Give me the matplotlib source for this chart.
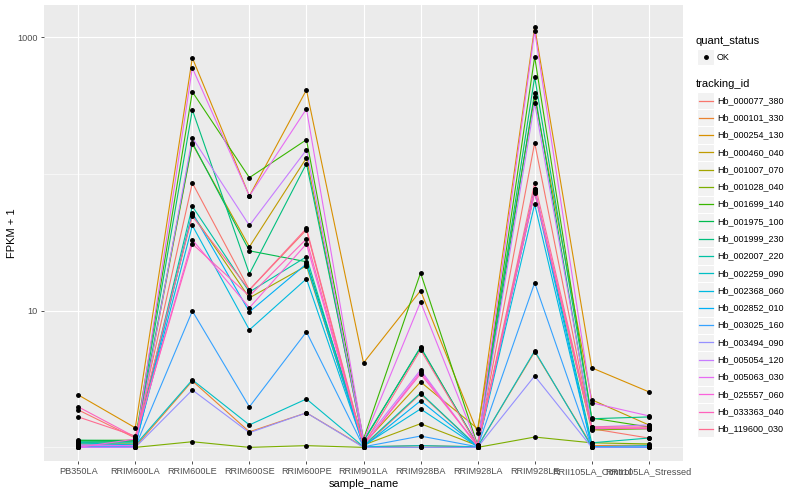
import matplotlib
matplotlib.use("Agg")
import matplotlib.pyplot as plt
from matplotlib.patches import Rectangle
from matplotlib.lines import Line2D
from matplotlib.ticker import NullFormatter

plt.rcParams["font.family"] = ["Liberation Sans", "DejaVu Sans"]

# ------------------------------------------------------------------ data
samples = ["PB350LA", "RRIM600LA", "RRIM600LE", "RRIM600SE", "RRIM600PE",
           "RRIM901LA", "RRIM928BA", "RRIM928LA", "RRIM928LE",
           "RRII105LA_Control", "RRII105LA_Stressed"]

genes = ["Hb_000077_380", "Hb_000101_330", "Hb_000254_130", "Hb_000460_040",
         "Hb_001007_070", "Hb_001028_040", "Hb_001699_140", "Hb_001975_100",
         "Hb_001999_230", "Hb_002007_220", "Hb_002259_090", "Hb_002368_060",
         "Hb_002852_010", "Hb_003025_160", "Hb_003494_090", "Hb_005054_120",
         "Hb_005063_030", "Hb_025557_060", "Hb_033363_040", "Hb_119600_030"]

# FPKM + 1, one list per gene, in sample order
fpkm = {
    "Hb_000077_380": [1.88, 1.17, 86, 14.2, 39, 1.01, 2.46, 1.01, 169, 1.37, 1.17],
    "Hb_000101_330": [1.01, 1.01, 3.06, 1.30, 1.79, 1.01, 1.03, 1.01, 5.0, 1.03, 1.04],
    "Hb_000254_130": [2.42, 1.39, 707, 69, 412, 4.15, 14.0, 1.28, 1191, 3.82, 2.55],
    "Hb_000460_040": [1.06, 1.06, 166, 29.3, 131, 1.06, 3.01, 1.37, 366, 2.23, 1.46],
    "Hb_001007_070": [1.08, 1.12, 51, 12.4, 21.3, 1.04, 1.49, 1.03, 75, 1.34, 1.37],
    "Hb_001028_040": [1.0, 1.0, 1.10, 1.0, 1.03, 1.0, 1.0, 1.0, 1.19, 1.08, 1.06],
    "Hb_001699_140": [1.12, 1.13, 399, 94, 178, 1.15, 18.9, 1.04, 719, 1.64, 1.41],
    "Hb_001975_100": [1.13, 1.12, 169, 27.4, 22.8, 1.12, 5.35, 1.04, 392, 1.37, 1.37],
    "Hb_001999_230": [1.10, 1.10, 294, 18.6, 119, 1.10, 5.43, 1.03, 513, 1.62, 1.67],
    "Hb_002007_220": [1.08, 1.08, 58, 13.7, 24.8, 1.03, 2.50, 1.01, 78, 1.08, 1.17],
    "Hb_002259_090": [1.08, 1.04, 3.12, 1.46, 2.26, 1.01, 1.03, 1.01, 5.08, 1.01, 1.03],
    "Hb_002368_060": [1.04, 1.04, 42, 7.24, 17.1, 1.03, 1.91, 1.01, 60, 1.01, 1.01],
    "Hb_002852_010": [1.01, 1.01, 52, 9.8, 22.0, 1.01, 2.19, 1.01, 74, 1.0, 1.01],
    "Hb_003025_160": [1.01, 1.01, 9.95, 1.98, 7.0, 1.01, 1.21, 1.01, 16.0, 1.0, 1.0],
    "Hb_003494_090": [1.0, 1.0, 2.63, 1.28, 1.79, 1.0, 1.0, 1.0, 3.33, 1.0, 1.01],
    "Hb_005054_120": [1.0, 1.0, 184, 42, 150, 1.08, 3.69, 1.01, 331, 1.41, 1.46],
    "Hb_005063_030": [1.04, 1.03, 597, 69, 299, 1.12, 11.6, 1.03, 1113, 2.12, 1.70],
    "Hb_025557_060": [1.0, 1.15, 33, 10.5, 30.8, 1.03, 3.57, 1.03, 77, 1.37, 1.39],
    "Hb_033363_040": [1.98, 1.19, 30.8, 12.8, 33.5, 1.04, 3.45, 1.03, 73, 1.39, 1.37],
    "Hb_119600_030": [1.67, 1.21, 49, 14.2, 40, 1.04, 5.17, 1.03, 86, 1.41, 1.41],
}

# ggplot2 default hue palette for 20 levels
hue = ["#F8766D", "#EA8331", "#D89000", "#C09B00", "#A3A500", "#7CAE00",
       "#39B600", "#00BB4E", "#00BF7D", "#00C1A3", "#00BFC4", "#00BAE0",
       "#00B0F6", "#35A2FF", "#9590FF", "#C77CFF", "#E76BF3", "#FA62DB",
       "#FF62BC", "#FF6C91"]

# ------------------------------------------------------------------ plot
fig = plt.figure(figsize=(8, 5), dpi=100)
ax = fig.add_axes([44 / 800, 39 / 500, 639 / 800, 456 / 500])
ax.set_facecolor("#EBEBEB")

x = list(range(len(samples)))
for g, col in zip(genes, hue):
    ax.plot(x, fpkm[g], color=col, lw=0.8, zorder=2)
for g in genes:
    ax.plot(x, fpkm[g], ls="none", marker="o", ms=2.5, color="black", zorder=3)

ax.set_yscale("log")
ax.set_ylim(0.795, 1722)
ax.set_xlim(-0.6, len(samples) - 0.4)
ax.set_yticks([10, 1000])
ax.set_yticklabels(["10", "1000"])
ax.set_yticks([1, 100], minor=True)
ax.yaxis.set_minor_formatter(NullFormatter())
ax.set_xticks(x)
ax.set_xticklabels(samples)

for s in ax.spines.values():
    s.set_visible(False)
ax.grid(True, which="major", color="white", lw=0.8, zorder=0)
ax.grid(True, which="minor", axis="y", color="white", lw=0.4, zorder=0)
ax.set_axisbelow(True)
ax.tick_params(which="major", length=2.5, width=0.6, color="#333333",
               labelsize=6.6, labelcolor="#4D4D4D", pad=2)
ax.tick_params(which="minor", length=0)

ax.set_xlabel("sample_name", fontsize=8, labelpad=2)
ax.set_ylabel("FPKM + 1", fontsize=8)
ax.yaxis.set_label_coords(-27 / 639, 0.5)

# ------------------------------------------------------------------ legend (pixel layout)
lg = fig.add_axes([0, 0, 1, 1], facecolor="none")
lg.set_xlim(0, 800)
lg.set_ylim(500, 0)
lg.axis("off")

lg.text(696, 41, "quant_status", fontsize=8, va="center", ha="left")
lg.add_patch(Rectangle((697, 49), 17, 16, fc="#F2F2F2", ec="white", lw=0.8))
lg.add_line(Line2D([705.5], [57], marker="o", ms=2.5, color="black"))
lg.text(717, 57, "OK", fontsize=6.5, va="center", ha="left")

lg.text(696, 84, "tracking_id", fontsize=8, va="center", ha="left")
step = 17.28
for i, (g, col) in enumerate(zip(genes, hue)):
    yc = 100.5 + i * step
    lg.add_patch(Rectangle((697, yc - step / 2), 17, step, fc="#F2F2F2",
                           ec="white", lw=0.8))
    lg.add_line(Line2D([698.5, 712.5], [yc, yc], color=col, lw=0.9))
    lg.text(717, yc, g, fontsize=6.5, va="center", ha="left")

fig.savefig("out.png", dpi=100)
